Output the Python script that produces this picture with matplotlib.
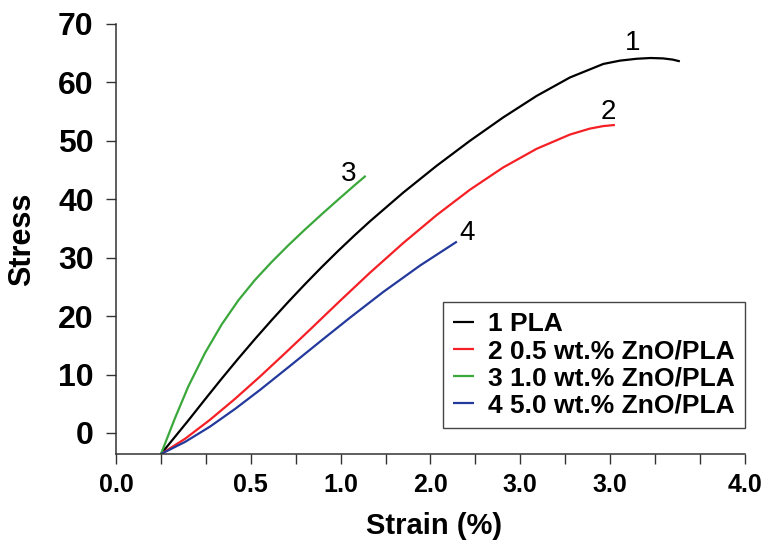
import numpy as np
import matplotlib
matplotlib.use("Agg")
import matplotlib.pyplot as plt

plt.rcParams['font.family'] = ['Liberation Sans', 'DejaVu Sans']

# stress-strain curves (strain %, stress)
pla_x = [0.286, 0.460, 0.566, 0.672, 0.778, 0.884, 0.990, 1.096, 1.202, 1.308, 1.414,
         1.520, 1.615, 1.827, 2.039, 2.251, 2.463, 2.675, 2.887, 3.099, 3.205, 3.311,
         3.400, 3.480, 3.540, 3.586]
pla_y = [-3.6, 2.14, 5.74, 9.29, 12.74, 16.08, 19.31, 22.44, 25.46, 28.38, 31.19,
         33.89, 36.22, 41.14, 45.72, 50.00, 54.01, 57.68, 60.84, 63.15, 63.72, 64.04,
         64.17, 64.10, 63.90, 63.60]

zno05_x = [0.286, 0.440, 0.598, 0.757, 0.916, 1.075, 1.234, 1.424, 1.615, 1.827, 2.039,
           2.251, 2.463, 2.675, 2.887, 3.014, 3.099, 3.173]
zno05_y = [-3.6, -0.98, 2.26, 5.84, 9.66, 13.64, 17.69, 22.59, 27.42, 32.51, 37.28,
           41.63, 45.45, 48.63, 51.07, 52.09, 52.52, 52.71]

zno10_x = [0.286, 0.375, 0.460, 0.566, 0.672, 0.778, 0.884, 0.990, 1.096, 1.202,
           1.308, 1.414, 1.520, 1.588]
zno10_y = [-3.6, 2.52, 7.96, 13.68, 18.56, 22.69, 26.19, 29.26, 32.12, 34.82,
           37.42, 39.96, 42.45, 44.01]

zno50_x = [0.286, 0.440, 0.598, 0.757, 0.916, 1.106, 1.297, 1.488, 1.698, 1.933, 2.168]
zno50_y = [-3.6, -1.52, 1.09, 4.11, 7.37, 11.46, 15.62, 19.73, 24.10, 28.64, 32.75]

series_names = ['1 PLA', '2 0.5 wt.% ZnO/PLA', '3 1.0 wt.% ZnO/PLA', '4 5.0 wt.% ZnO/PLA']
series_colors = ['#000000', '#f52025', '#3aa83a', '#23399c']

# curve number tags: (text, x, y)
tags = [('1', 3.288, 66.8), ('2', 3.129, 55.0), ('3', 1.481, 44.3), ('4', 2.232, 34.3)]

x_ticks = np.linspace(0, 4, 15)
x_ticklabels = ['0.0', '', '', '0.5', '', '1.0', '', '2.0', '', '3.0', '', '3.0', '', '', '4.0']
y_ticks = [0, 10, 20, 30, 40, 50, 60, 70]

fig = plt.figure(figsize=(7.68, 5.44), dpi=100)
ax = fig.add_axes([0.151, 0.1654, 0.819, 0.7906])

data = [(pla_x, pla_y), (zno05_x, zno05_y), (zno10_x, zno10_y), (zno50_x, zno50_y)]
for (xs, ys), name, col in zip(data, series_names, series_colors):
    ax.plot(xs, ys, color=col, lw=1.6, label=name,
            solid_joinstyle='round', solid_capstyle='butt')

for t, tx, ty in tags:
    ax.text(tx, ty, t, fontsize=20, ha='center', va='center')

ax.set_xlim(0, 4)
ax.set_ylim(-3.6, 70)
ax.set_xticks(x_ticks)
ax.set_xticklabels(x_ticklabels, fontsize=18, fontweight='bold')
ax.set_yticks(y_ticks)
ax.set_yticklabels([str(v) for v in y_ticks], fontsize=23, fontweight='bold')

for s in ['top', 'right']:
    ax.spines[s].set_visible(False)
for s in ['left', 'bottom']:
    ax.spines[s].set_color('#333333')
    ax.spines[s].set_linewidth(1.1)
ax.tick_params(axis='both', direction='out', length=7, width=1.0, color='#333333')
ax.tick_params(axis='y', pad=9)
ax.tick_params(axis='x', pad=7)

ax.set_xlabel('Strain (%)', fontsize=21, fontweight='bold')
ax.set_ylabel('Stress', fontsize=22, fontweight='bold')
ax.xaxis.set_label_coords(0.506, -0.135)
ax.yaxis.set_label_coords(-0.126, 0.5)

leg = ax.legend(loc='lower right', bbox_to_anchor=(1.0, 0.06), borderaxespad=0,
                fancybox=False, prop={'weight': 'bold', 'size': 19},
                handlelength=0.8, handletextpad=0.5, labelspacing=0.12,
                borderpad=0.4, framealpha=1)
leg.get_frame().set_edgecolor('#444444')
leg.get_frame().set_linewidth(1.0)

fig.savefig('out.png', dpi=100)
